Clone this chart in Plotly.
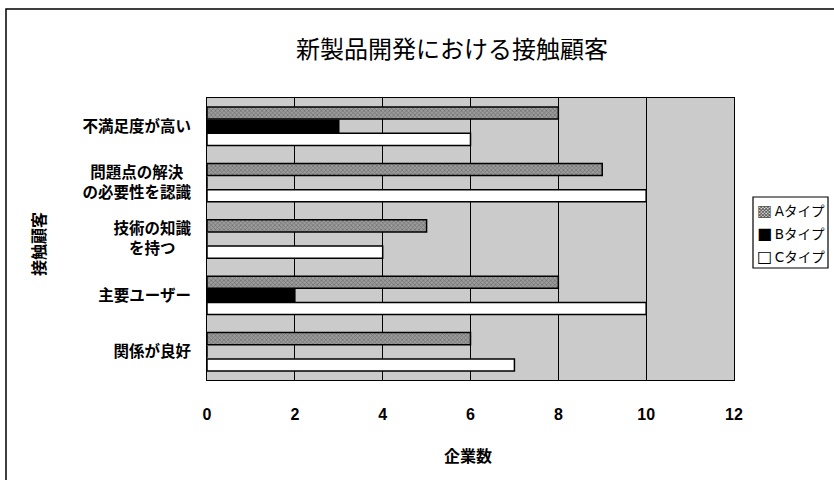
import plotly.graph_objects as go

# Contact customers in new-product development, counted by company type
categories = [
    "不満足度が高い",
    "問題点の解決\u2002<br>の必要性を認識",
    "技術の知識<br>を持つ\u3000",
    "主要ユーザー",
    "関係が良好",
]
type_a = [8, 9, 5, 8, 6]
type_b = [3, 0, 0, 2, 0]
type_c = [6, 10, 4, 10, 7]
series_names = ["Aタイプ", "Bタイプ", "Cタイプ"]
legend_glyphs = ["▩", "■", "□"]
x_ticks = [0, 2, 4, 6, 8, 10, 12]

W, H = 834, 480
L, R, T, B = 207, 100, 98, 100

JP = "Noto Sans CJK JP"
NUM = "Liberation Sans Narrow, Liberation Sans, Arial"

fig = go.Figure()

fig.add_trace(go.Bar(
    y=categories, x=type_a, name=series_names[0], orientation="h",
    marker=dict(
        color="#8e8e8e",
        line=dict(color="#000000", width=1.5),
        pattern=dict(shape="x", size=3, solidity=0.4,
                     fgcolor="#3c3c3c", bgcolor="#9c9c9c"),
    ),
))
fig.add_trace(go.Bar(
    y=categories, x=type_b, name=series_names[1], orientation="h",
    marker=dict(color="#000000", line=dict(color="#000000", width=1.5)),
))
fig.add_trace(go.Bar(
    y=categories, x=type_c, name=series_names[2], orientation="h",
    marker=dict(color="#ffffff", line=dict(color="#000000", width=1.5)),
))

pw = W - L - R
ph = H - T - B


def px_x(p):
    return (p - L) / pw


def px_y(p):
    return 1 - (p - T) / ph


fig.update_layout(
    width=W, height=H,
    margin=dict(l=L, r=R, t=T, b=B, autoexpand=False),
    paper_bgcolor="#ffffff",
    plot_bgcolor="#cbcbcb",
    barmode="group",
    bargap=0.3,
    bargroupgap=0.08,
    font=dict(family=JP, color="#000000"),
    title=dict(
        text="新製品開発における接触顧客",
        x=452 / W, xanchor="center",
        y=1 - 50 / H, yanchor="middle",
        font=dict(family=JP, size=24, color="#000000"),
    ),
    showlegend=False,
)

fig.update_xaxes(
    range=[0, 12],
    tickvals=x_ticks,
    ticktext=[str(v) for v in x_ticks],
    showgrid=True, gridcolor="#000000", gridwidth=1,
    zeroline=False,
    showline=True, linecolor="#000000", linewidth=1, mirror=True,
    ticks="",
    ticklabelstandoff=20,
    tickfont=dict(family=NUM, size=16, color="#000000", weight="bold"),
    fixedrange=True,
    automargin=False,
)
fig.update_yaxes(
    autorange="reversed",
    showgrid=False,
    showline=True, linecolor="#000000", linewidth=1, mirror=True,
    ticks="",
    ticklabelstandoff=12,
    tickfont=dict(family=JP, size=15.5, color="#000000", weight="bold"),
    fixedrange=True,
    automargin=False,
)

# axis titles
fig.add_annotation(
    text="企業数", xref="paper", yref="paper",
    x=px_x(468), y=px_y(455),
    showarrow=False, xanchor="center", yanchor="middle",
    font=dict(family=JP, size=16, color="#000000", weight="bold"),
)
fig.add_annotation(
    text="接触顧客", xref="paper", yref="paper",
    x=px_x(38), y=px_y(244),
    showarrow=False, xanchor="center", yanchor="middle", textangle=-90,
    font=dict(family=JP, size=16, color="#000000", weight="bold"),
)

# legend box with one line per series
fig.add_shape(
    type="rect", xref="paper", yref="paper",
    x0=px_x(753), x1=px_x(828), y0=px_y(268), y1=px_y(197),
    line=dict(color="#000000", width=1.2), fillcolor="#ffffff",
)
for i, (glyph, name) in enumerate(zip(legend_glyphs, series_names)):
    colour = "#5a5a5a" if i == 0 else "#000000"
    fig.add_annotation(
        text=f"<span style='color:{colour};font-size:16px'>{glyph}</span>\u2009{name}",
        xref="paper", yref="paper",
        x=px_x(755), y=px_y(210 + 23 * i),
        showarrow=False, xanchor="left", yanchor="middle",
        font=dict(family="DejaVu Sans, " + JP, size=13.5, color="#000000"),
    )

# outer chart frame
fig.add_shape(
    type="rect", xref="paper", yref="paper",
    x0=px_x(6), x1=px_x(W + 10),
    y0=px_y(H + 10), y1=px_y(9),
    line=dict(color="#000000", width=1.5), fillcolor="rgba(0,0,0,0)",
    layer="below",
)

fig.write_html("out.html")
